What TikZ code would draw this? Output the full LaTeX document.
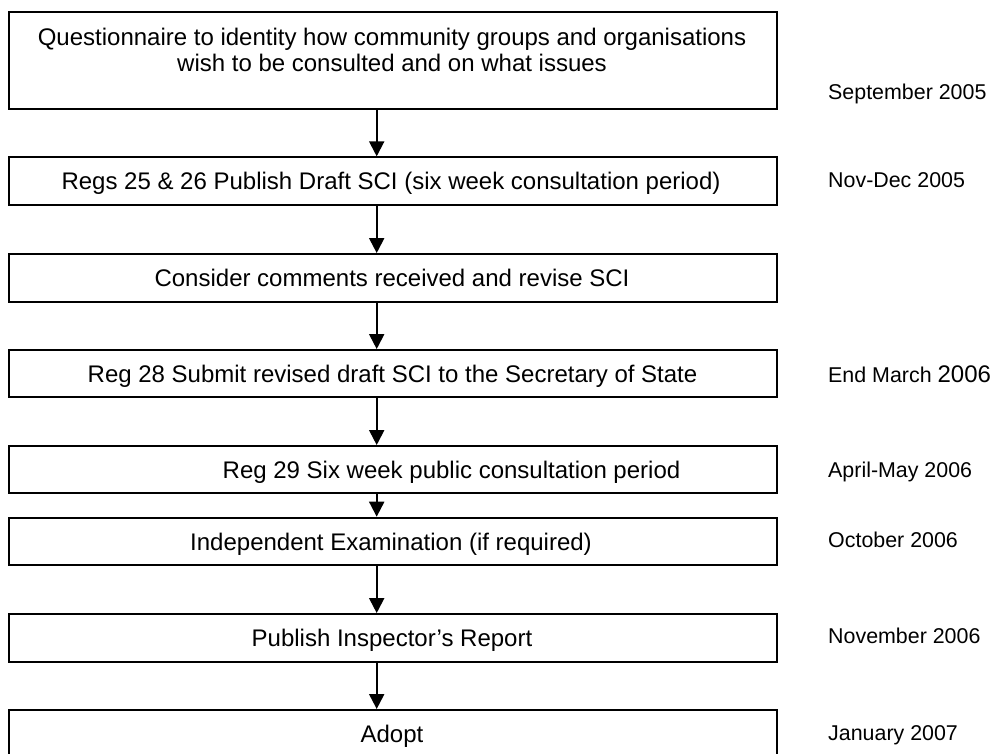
\documentclass[tikz,border=0pt]{standalone}
\usepackage{fontspec}
\setmainfont{Liberation Sans}
\usetikzlibrary{arrows.meta}
\tikzset{
  x=1pt, y=-1pt,
  box/.style={draw, line width=2pt, minimum width=768pt, inner sep=0pt},
  btext/.style={anchor=base, inner sep=0pt, font=\fontsize{24}{26}\selectfont, align=center},
  dtext/.style={anchor=base west, inner sep=0pt, font=\fontsize{21.4}{24}\selectfont},
  arr/.style={line width=2pt, -{Triangle[width=15pt,length=15pt]}}
}
\begin{document}
\begin{tikzpicture}
\useasboundingbox (0,0) rectangle (992,753);
% boxes
\node[box, minimum height=97.6pt] (b1) at (392.5,60.5) {};
\node[box, minimum height=47.7pt] (b2) at (392.5,181.2) {};
\node[box, minimum height=47.7pt] (b3) at (392.5,277.9) {};
\node[box, minimum height=47.3pt] (b4) at (392.5,373.7) {};
\node[box, minimum height=47.3pt] (b5) at (392.5,469.7) {};
\node[box, minimum height=47.6pt] (b6) at (392.5,541.5) {};
\node[box, minimum height=47.7pt] (b7) at (392.5,637.9) {};
\node[box, minimum height=50pt] (b8) at (392.5,735) {};
% box texts
\node[btext] (t1a) at (392,45) {Questionnaire to identity how community groups and organisations};
\node[btext] (t1b) at (392,71) {wish to be consulted and on what issues};
\node[btext] (t2) at (391,189.5) {Regs 25 \& 26 Publish Draft SCI (six week consultation period)};
\node[btext] (t3) at (392,286.5) {Consider comments received and revise SCI};
\node[btext] (t4) at (392.5,382.5) {Reg 28 Submit revised draft SCI to the Secretary of State};
\node[btext] (t5) at (451.5,478.5) {Reg 29 Six week public consultation period};
\node[btext] (t6) at (391,550.5) {Independent Examination (if required)};
\node[btext] (t7) at (392,646.5) {Publish Inspector’s Report};
\node[btext] (t8) at (392,742.5) {Adopt};
% dates
\node[dtext] (d1) at (828,99) {September 2005};
\node[dtext] (d2) at (828,187.5) {Nov-Dec 2005};
\node[dtext] (d4) at (828,382.5) {End March {\fontsize{24}{26}\selectfont 2006}};
\node[dtext] (d5) at (828,477) {April-May 2006};
\node[dtext] (d6) at (828,547.5) {October 2006};
\node[dtext] (d7) at (828,643) {November 2006};
\node[dtext] (d8) at (828,740) {January 2007};
% arrows
\coordinate (ax) at (376.7,0);
\draw[arr] (b1.south -| ax) -- (b2.north -| ax);
\draw[arr] (b2.south -| ax) -- (b3.north -| ax);
\draw[arr] (b3.south -| ax) -- (b4.north -| ax);
\draw[arr] (b4.south -| ax) -- (b5.north -| ax);
\draw[arr] (b5.south -| ax) -- (b6.north -| ax);
\draw[arr] (b6.south -| ax) -- (b7.north -| ax);
\draw[arr] (b7.south -| ax) -- (b8.north -| ax);
\end{tikzpicture}
\end{document}
